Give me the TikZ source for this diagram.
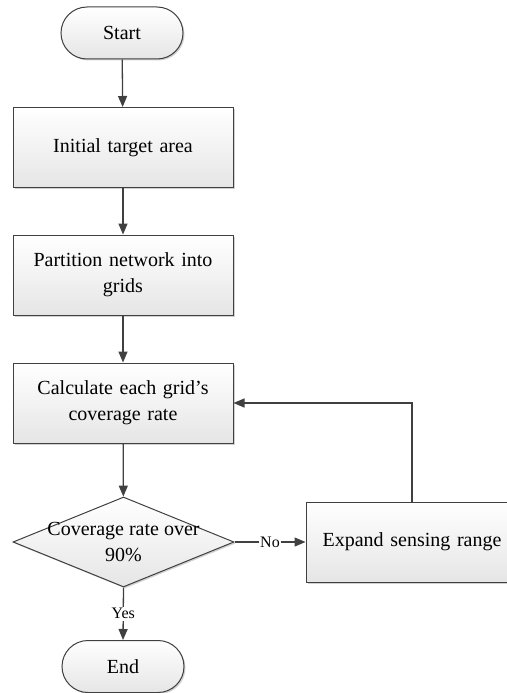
\documentclass[tikz,border=0pt]{standalone}
\usepackage{fontspec}
\setmainfont{Liberation Serif}
\usetikzlibrary{shapes.geometric,arrows.meta,shadows}
\definecolor{ln}{HTML}{404040}
\tikzset{
  base/.style={draw=ln, line width=1pt, top color=white, bottom color=black!10,
    drop shadow={shadow xshift=1.5pt, shadow yshift=-1.5pt, fill=black!30, opacity=0.6},
    font=\fontsize{20}{26}\selectfont, align=center, inner sep=0pt},
  term/.style={base, minimum width=122pt, minimum height=52pt, rounded corners=26pt},
  proc/.style={base, minimum width=220pt, minimum height=80pt, text width=210pt},
  dec/.style={base, diamond, minimum width=221pt, minimum height=90pt},
  txt/.style={font=\fontsize{20}{26}\selectfont, align=center, inner sep=0pt},
  lbl/.style={font=\fontsize{16}{18}\selectfont, fill=white, inner sep=1.5pt},
  arr/.style={draw=ln, line width=1.3pt, -{Triangle[length=11pt,width=9pt]}},
}
\begin{document}
\begin{tikzpicture}[x=1pt,y=-1pt]
\useasboundingbox (0,0) rectangle (506,693);
\node[term] (start) at (122,33) {Start};
\node[proc] (init) at (123,147.5) {Initial target area};
\node[proc] (part) at (123,275) {Partition network into\\grids};
\node[proc] (calc) at (123,403) {Calculate each grid's\\coverage rate};
\node[dec] (dec) at (123.5,542) {};
\node[txt] (dectxt) at (123.5,542) {Coverage rate over\\90\%};
\node[proc, minimum width=212pt, text width=205pt] (exp) at (412,542) {Expand sensing range};
\node[term] (end) at (123,666.5) {End};
\draw[arr] (start) -- (init);
\draw[arr] (init) -- (part);
\draw[arr] (part) -- (calc);
\draw[arr] (calc) -- (dec);
\draw[arr] (dec.east) -- node[lbl, pos=0.5] (no) {No} (exp.west);
\draw[arr] (dec.south) -- node[lbl, pos=0.5] (yes) {Yes} (end.north);
\draw[arr] (exp.north) |- (calc.east);
\end{tikzpicture}
\end{document}
